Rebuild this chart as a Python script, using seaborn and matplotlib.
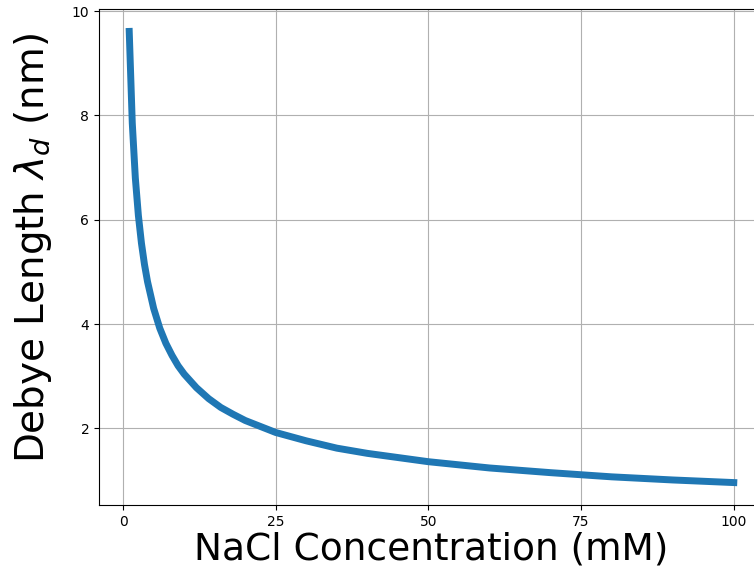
import matplotlib
matplotlib.use("Agg")
import matplotlib.pyplot as plt
import seaborn as sns
import pandas as pd

# NaCl concentration (mM) and the corresponding Debye length (nm)
concentration_mM = [1, 1.5, 2, 2.5, 3, 3.5, 4, 5, 6, 7, 8, 9, 10, 12, 14, 16, 18,
                    20, 25, 30, 35, 40, 50, 60, 70, 80, 90, 100]
debye_length_nm = [9.61, 7.85, 6.80, 6.08, 5.55, 5.14, 4.81, 4.30, 3.92, 3.63, 3.40,
                   3.20, 3.04, 2.78, 2.57, 2.40, 2.27, 2.15, 1.92, 1.76, 1.62, 1.52,
                   1.36, 1.24, 1.15, 1.07, 1.01, 0.96]

x_ticks = [0, 25, 50, 75, 100]
y_ticks = [2, 4, 6, 8, 10]

df = pd.DataFrame({"conc": concentration_mM, "debye": debye_length_nm})

plt.rcParams.update(plt.rcParamsDefault)
plt.rcParams["font.family"] = ["DejaVu Sans"]

fig = plt.figure(figsize=(7.54, 5.82), dpi=100)
ax = fig.add_axes([99 / 754, 1 - 505 / 582, (764 - 99) / 754, (505 - 9) / 582])

sns.lineplot(data=df, x="conc", y="debye", ax=ax, color="#1f77b4", linewidth=5)

ax.set_xlim(-3.95, 104.95)
ax.set_ylim(0.53, 10.04)
ax.set_xticks(x_ticks)
ax.set_yticks(y_ticks)
ax.tick_params(labelsize=10)
ax.grid(True, color="#b0b0b0", linewidth=0.8)
ax.set_axisbelow(True)

ax.set_xlabel("NaCl Concentration (mM)", fontsize=27, labelpad=2)
ax.set_ylabel(r"Debye Length $\lambda_d$ (nm)", fontsize=28)
ax.yaxis.set_label_coords(-0.067, 0.518)

fig.savefig("out.png", dpi=100)
